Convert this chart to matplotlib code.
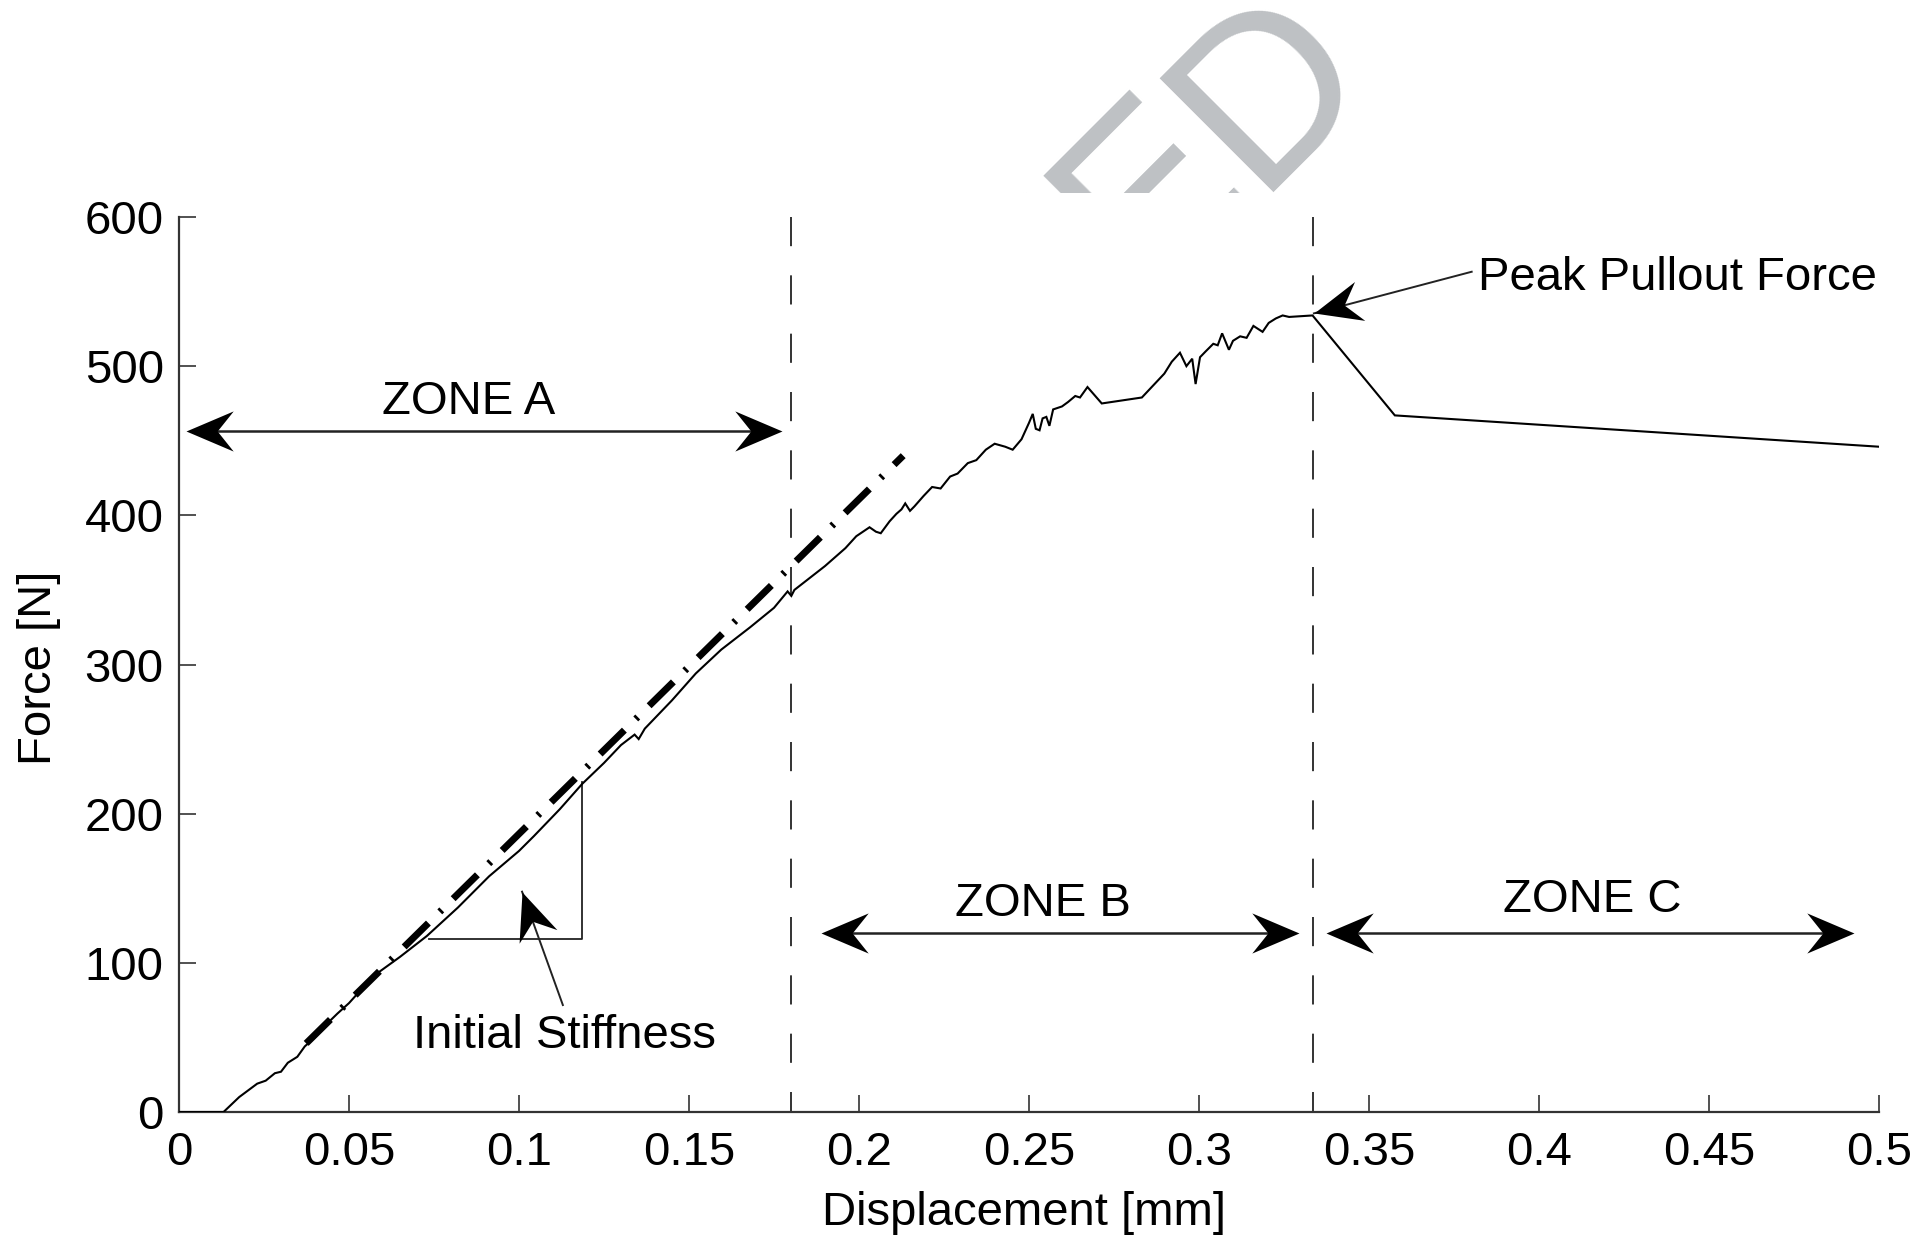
import matplotlib
matplotlib.use("Agg")
import matplotlib.pyplot as plt
import numpy as np
from matplotlib.path import Path
from matplotlib.markers import MarkerStyle
from matplotlib.transforms import Affine2D
from matplotlib.patches import Rectangle

# ---------------- data ----------------
disp = [0.000, 0.0131, 0.0177, 0.0230, 0.0255, 0.0282, 0.0300, 0.0320, 0.0348, 0.0370,
        0.0400, 0.0430, 0.0466, 0.0500, 0.0571, 0.0650, 0.0729, 0.0820, 0.0912, 0.1000,
        0.1044, 0.1120, 0.1186, 0.1250, 0.1300, 0.1340, 0.1352, 0.1370, 0.1450, 0.1520,
        0.1595, 0.1680, 0.1750, 0.1790, 0.1801, 0.1810, 0.1900, 0.1960, 0.1992, 0.2031,
        0.2050, 0.2064, 0.2090, 0.2110, 0.2125, 0.2136, 0.2150, 0.2163, 0.2190, 0.2215,
        0.2240, 0.2268, 0.2290, 0.2320, 0.2345, 0.2373, 0.2399, 0.2430, 0.2452, 0.2478,
        0.2500, 0.2511, 0.2520, 0.2531, 0.2540, 0.2551, 0.2560, 0.2571, 0.2597, 0.2615,
        0.2636, 0.2650, 0.2672, 0.2714, 0.2832, 0.2898, 0.2920, 0.2944, 0.2963, 0.2980,
        0.2990, 0.3003, 0.3020, 0.3042, 0.3055, 0.3068, 0.3088, 0.3100, 0.3121, 0.3140,
        0.3160, 0.3187, 0.3205, 0.3226, 0.3246, 0.3265, 0.3334, 0.3576, 0.5000]
force = [0, 0, 10, 19, 21, 26, 27, 33, 37, 44,
         50, 58, 66, 73, 91, 104, 118, 137, 158, 175,
         185, 203, 220, 234, 246, 253, 250, 257, 276, 294,
         310, 325, 338, 349, 346, 350, 366, 378, 386, 392,
         389, 388, 396, 401, 404, 408, 403, 406, 413, 419,
         418, 426, 428, 435, 437, 444, 448, 446, 444, 451,
         462, 468, 458, 457, 465, 466, 460, 471, 473, 476,
         480, 479, 486, 475, 479, 495, 503, 509, 500, 505,
         488, 506, 510, 515, 514, 522, 511, 517, 520, 519,
         527, 523, 529, 532, 534, 533, 534, 467, 446]

# initial-stiffness fit line (dash-dot)
fit_disp = [0.0374, 0.2130]
fit_force = [46, 440]

# stiffness triangle
tri_disp = [0.0735, 0.1186, 0.1186]
tri_force = [115.8, 115.8, 221.4]

# zone boundaries
zone_bounds = [0.180, 0.3334]

xticks = [0, 0.05, 0.1, 0.15, 0.2, 0.25, 0.3, 0.35, 0.4, 0.45, 0.5]
xtick_labels = ["0", "0.05", "0.1", "0.15", "0.2", "0.25", "0.3", "0.35", "0.4", "0.45", "0.5"]
yticks = [0, 100, 200, 300, 400, 500, 600]
ytick_labels = ["0", "100", "200", "300", "400", "500", "600"]

# ---------------- figure ----------------
FONT = "Liberation Sans"
FS = 34
plt.rcParams["font.family"] = [FONT, "DejaVu Sans"]

W, H = 1919, 1241
fig = plt.figure(figsize=(W / 100, H / 100), dpi=100)
ax = fig.add_axes([179 / W, 1 - 1112 / H, 1700 / W, 895 / H])
ax.set_xlim(0, 0.5)
ax.set_ylim(0, 600)

for s in ["top", "right"]:
    ax.spines[s].set_visible(False)
for s in ["left", "bottom"]:
    ax.spines[s].set_linewidth(1.6)
    ax.spines[s].set_color("#333333")

ax.set_xticks(xticks)
ax.set_xticklabels(xtick_labels)
ax.set_yticks(yticks)
ax.set_yticklabels(ytick_labels)
ax.tick_params(axis="both", direction="in", length=12, width=1.2, color="#333333",
               labelsize=FS, labelcolor="black")
ax.tick_params(axis="x", pad=14)
ax.tick_params(axis="y", pad=11)

# main curve
ax.plot(disp, force, color="black", lw=1.5, solid_joinstyle="miter", zorder=4)

# dash-dot fit line
ax.plot(fit_disp, fit_force, color="black", lw=5,
        linestyle=(0, (4.9, 2.3, 0.4, 2.3)), dash_capstyle="butt", zorder=5)

# triangle
ax.plot(tri_disp, tri_force, color="#222222", lw=1.3, zorder=3)

# zone boundary dashed lines
for xb in zone_bounds:
    ax.plot([xb, xb], [600, 0], color="#333333", lw=1.4,
            linestyle=(0, (15, 15)), zorder=2)

# arrowhead marker (notched, pointing +x, tip at origin)
head_path = Path([(0, 0), (-47, 20), (-31, 0), (-47, -20), (0, 0)],
                 [Path.MOVETO, Path.LINETO, Path.LINETO, Path.LINETO, Path.CLOSEPOLY])
HEAD_MS = 68


def head(xy, angle):
    m = MarkerStyle(head_path, transform=Affine2D().rotate_deg(angle))
    ax.plot([xy[0]], [xy[1]], marker=m, ms=HEAD_MS, color="black",
            mec="none", ls="none", zorder=6, clip_on=False)


def disp_angle(p_from, p_to):
    a = ax.transData.transform(p_from)
    b = ax.transData.transform(p_to)
    return np.degrees(np.arctan2(b[1] - a[1], b[0] - a[0]))


def double_arrow(x0, x1, y):
    ax.plot([x0 + 0.004, x1 - 0.004], [y, y], color="#222222", lw=1.8, zorder=5)
    head((x0, y), 180)
    head((x1, y), 0)


double_arrow(0.002, 0.1773, 456.7)
double_arrow(0.1889, 0.3294, 119.8)
double_arrow(0.3374, 0.4927, 119.8)

ax.text(0.0852, 468, "ZONE A", fontsize=FS, ha="center", va="baseline")
ax.text(0.254, 131.4, "ZONE B", fontsize=FS, ha="center", va="baseline")
ax.text(0.4156, 134.3, "ZONE C", fontsize=FS, ha="center", va="baseline")

# Peak pullout force annotation
p_tail, p_tip = (0.3802, 563.3), (0.3338, 535.4)
ax.plot([p_tail[0], p_tip[0]], [p_tail[1], p_tip[1]], color="#222222", lw=1.4, zorder=5)
head(p_tip, disp_angle(p_tail, p_tip))
ax.text(0.382, 551, "Peak Pullout Force", fontsize=FS, ha="left", va="baseline")

# Initial stiffness annotation
s_tail, s_tip = (0.1129, 71.7), (0.1009, 147.7)
ax.plot([s_tail[0], s_tip[0]], [s_tail[1], s_tip[1]], color="#222222", lw=1.4, zorder=5)
head(s_tip, disp_angle(s_tail, s_tip))
ax.text(0.1133, 42.7, "Initial Stiffness", fontsize=FS, ha="center", va="baseline")

# axis labels
fig.text(1024 / W, 1 - 1213 / H, "Displacement [mm]", fontsize=FS, ha="center", va="center")
fig.text(39 / W, 1 - 668 / H, "Force [N]", fontsize=FS, ha="center", va="center", rotation=90)

# watermark (partially visible, clipped)
clip = Rectangle((0, 1 - 192.7 / H), 1, 1, transform=fig.transFigure)
wm_kw = dict(fontsize=168, color="#bec1c4", rotation=45, rotation_mode="anchor",
             va="baseline", family=FONT, zorder=0)
wx, wy = 1254.5 / W, 1 - 192.5 / H
t1 = fig.text(wx, wy, "D", ha="left", **wm_kw)
t2 = fig.text(wx, wy, "ACCEPTE", ha="right", **wm_kw)
for t in (t1, t2):
    t.set_clip_path(clip)
    t.set_clip_on(True)

fig.savefig("out.png", dpi=100)
